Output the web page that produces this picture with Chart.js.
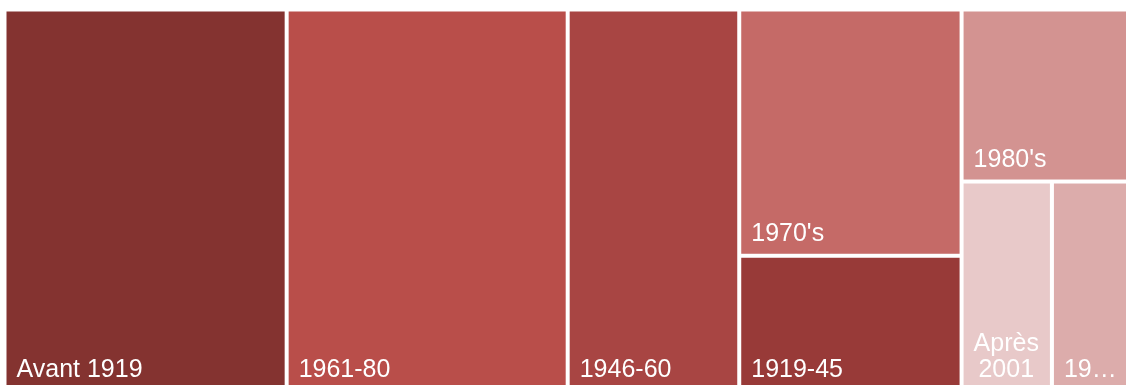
<!DOCTYPE html>
<html>
<head>
<meta charset="utf-8">
<script src="https://cdn.jsdelivr.net/npm/chart.js@4.4.0/dist/chart.umd.min.js"></script>
<style>
  html, body { margin: 0; padding: 0; background: #fff; }
  #cadre { width: 1126px; height: 385px; position: relative; }
</style>
</head>
<body>
<div id="cadre"><canvas id="treemap"></canvas></div>
<script>
// Données : part des logements par période de construction (%)
const periodes = ['Avant 1919', '1961-80', '1946-60', "1970's", '1919-45', "1980's", 'Après 2001', "1990's"];
const parts = [25.0, 24.9, 15.2, 12.7, 7.0, 6.8, 4.4, 3.9];
const couleurs = ['#843330', '#b94e4a', '#a84543', '#c56a67', '#983a38', '#d39391', '#e8c9c9', '#dcacab'];

// Surface du treemap en unités des axes (elle déborde un peu du cadre visible)
const LARGEUR = 1127.5;
const HAUTEUR = 382;
const RATIO = 0.85;
const ECART = 4;
const POLICE = '25px "Liberation Sans", Arial, sans-serif';

// pire rapport d'aspect d'une rangée
function pire(valeurs, epaisseur, k) {
    let w = 0;
    valeurs.forEach(v => {
        const longueur = v * k / epaisseur;
        const r = epaisseur / longueur;
        w = Math.max(w, r / RATIO, RATIO / r);
    });
    return w;
}

// squarified, éléments triés du plus grand au plus petit
function squarify(elements, x0, y0, x1, y1) {
    let reste = elements.reduce((a, e) => a + e.value, 0);
    let i = 0;
    const cases = [];
    while (i < elements.length) {
        const dx = x1 - x0, dy = y1 - y0;
        const k = dx * dy / reste;
        const enColonne = dx >= dy * 0.6;
        const cote = enColonne ? dy : dx;
        let rang = [elements[i].value];
        let somme = elements[i].value;
        let meilleur = pire(rang, somme * k / cote, k);
        let j = i + 1;
        while (j < elements.length) {
            const essai = rang.concat(elements[j].value);
            const s = somme + elements[j].value;
            const r = pire(essai, s * k / cote, k);
            if (r > meilleur) break;
            rang = essai; somme = s; meilleur = r; j++;
        }
        const t = somme * k / cote;
        let pos = enColonne ? y0 : x0;
        for (let m = i; m < j; m++) {
            const l = elements[m].value * k / t;
            if (enColonne) cases.push({ ...elements[m], x0: x0, y0: pos, x1: x0 + t, y1: pos + l });
            else cases.push({ ...elements[m], x0: pos, y0: y0, x1: pos + l, y1: y0 + t });
            pos += l;
        }
        if (enColonne) x0 += t; else y0 += t;
        reste -= somme;
        i = j;
    }
    return cases;
}

const elements = periodes
    .map((p, i) => ({ label: p, value: parts[i], color: couleurs[i] }))
    .sort((a, b) => b.value - a.value);

const cases = squarify(elements, 0, 0, LARGEUR, HAUTEUR).map(c => ({
    ...c, x: (c.x0 + c.x1) / 2, y: (c.y0 + c.y1) / 2
}));

function couper(ctx, texte, dispo) {
    if (ctx.measureText(texte).width <= dispo) return texte;
    let t = texte;
    while (t.length > 0 && ctx.measureText(t + '…').width > dispo) t = t.slice(0, -1);
    return t + '…';
}

function lignes(ctx, texte, dispo) {
    if (ctx.measureText(texte).width <= dispo) return [texte];
    const mots = texte.split(' ');
    const res = [];
    let ligne = '';
    mots.forEach(m => {
        const essai = ligne ? ligne + ' ' + m : m;
        if (ligne && ctx.measureText(essai).width > dispo) { res.push(ligne); ligne = m; }
        else ligne = essai;
    });
    if (ligne) res.push(ligne);
    return res.map(l => couper(ctx, l, dispo));
}

const dessinCases = {
    id: 'dessinCases',
    afterDatasetsDraw(chart) {
        const { ctx, scales: { x, y } } = chart;
        const data = chart.data.datasets[0].data;
        ctx.save();
        data.forEach(c => {
            const g = x.getPixelForValue(c.x0) + ECART / 2;
            const d = x.getPixelForValue(c.x1) - ECART / 2;
            const h = y.getPixelForValue(c.y0) + ECART / 2;
            const b = y.getPixelForValue(c.y1) - ECART / 2;
            ctx.fillStyle = c.color;
            ctx.fillRect(g, h, d - g, b - h);

            ctx.font = POLICE;
            ctx.fillStyle = '#ffffff';
            ctx.textBaseline = 'alphabetic';
            const dispo = d - g - 19;
            const ls = lignes(ctx, c.label, dispo);
            const largeurs = ls.map(l => ctx.measureText(l).width);
            const bloc = Math.max(...largeurs);
            ls.forEach((l, n) => {
                const base = b - 13 - (ls.length - 1 - n) * 26;
                ctx.fillText(l, g + 10 + (bloc - largeurs[n]) / 2, base);
            });
        });
        ctx.restore();
    }
};

new Chart(document.getElementById('treemap'), {
    type: 'scatter',
    data: {
        datasets: [{
            data: cases,
            pointRadius: 0,
            pointHoverRadius: 0
        }]
    },
    options: {
        responsive: true,
        maintainAspectRatio: false,
        animation: false,
        layout: { padding: { left: 4.5, top: 9.5, right: 0, bottom: 0 } },
        plugins: { legend: { display: false }, tooltip: { enabled: false } },
        scales: {
            x: { type: 'linear', min: 0, max: 1121.5, display: false },
            y: { type: 'linear', min: 0, max: 375.5, reverse: true, display: false }
        }
    },
    plugins: [dessinCases]
});
</script>
</body>
</html>
